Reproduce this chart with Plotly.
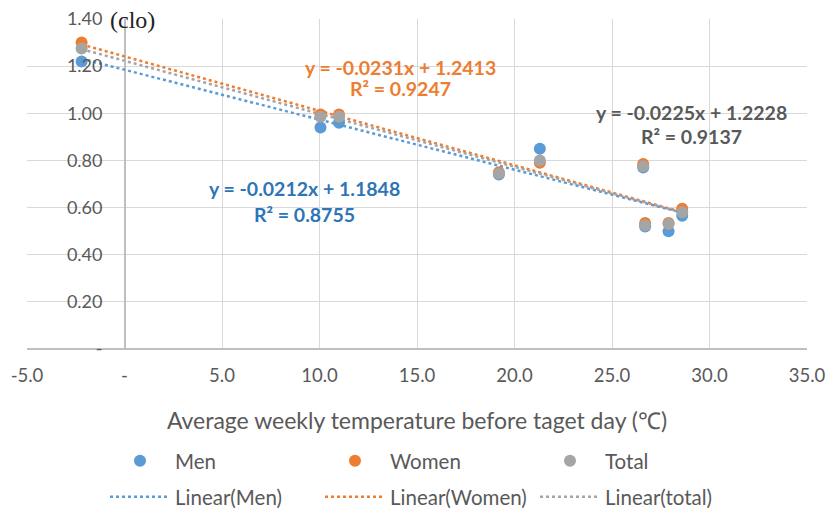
import plotly.graph_objects as go

# ---- data ----
temp = [-2.2, 10.05, 11.0, 19.2, 21.3, 26.6, 26.7, 27.9, 28.6]
men = [1.22, 0.94, 0.96, 0.74, 0.85, 0.77, 0.52, 0.50, 0.565]
women = [1.30, 0.995, 0.995, 0.75, 0.79, 0.785, 0.535, 0.535, 0.595]
total = [1.275, 0.985, 0.985, 0.745, 0.80, 0.775, 0.525, 0.53, 0.58]

series_names = ["Men", "Women", "Total"]
trend_names = ["Linear(Men)", "Linear(Women)", "Linear(total)"]
slopes = [-0.0212, -0.0231, -0.0225]
intercepts = [1.1848, 1.2413, 1.2228]
r2 = [0.8755, 0.9247, 0.9137]

x_ticks = [-5, 0, 5, 10, 15, 20, 25, 30, 35]
x_ticktext = ["-5.0", "-", "5.0", "10.0", "15.0", "20.0", "25.0", "30.0", "35.0"]
y_ticks = [0, 0.2, 0.4, 0.6, 0.8, 1.0, 1.2, 1.4]
y_ticktext = ["-", "0.20", "0.40", "0.60", "0.80", "1.00", "1.20", "1.40"]

colors = ["#5B9BD5", "#ED7D31", "#A5A5A5"]
text_colors = ["#2E75B6", "#ED7D31", "#595959"]
FONT = "Lato"
GRAY = "#595959"

fig = go.Figure()

ys = [men, women, total]
xmin, xmax = min(temp), max(temp)
# trend lines (drawn first, under markers)
for i in range(3):
    tx = [xmin, xmax]
    ty = [slopes[i] * v + intercepts[i] for v in tx]
    fig.add_trace(go.Scatter(
        x=tx, y=ty, mode="lines", name=trend_names[i],
        line=dict(color=colors[i], width=2.5, dash="dot"),
        legend="legend2"))

for i in [0, 1, 2]:
    fig.add_trace(go.Scatter(
        x=temp, y=ys[i], mode="markers", name=series_names[i],
        marker=dict(color=colors[i], size=12),
        legend="legend"))

# equation annotations (label centre x, line-1 y, line-2 y)
eq_xy = [(9.23, 0.683, 0.569), (14.15, 1.196, 1.107), (29.08, 1.005, 0.90)]
for i in range(3):
    fig.add_annotation(
        x=eq_xy[i][0], y=eq_xy[i][1], xref="x", yref="y", showarrow=False,
        text=f"<b>y = {slopes[i]:.4f}x + {intercepts[i]:.4f}</b>",
        font=dict(family=FONT, size=19.5, color=text_colors[i]))
    fig.add_annotation(
        x=eq_xy[i][0], y=eq_xy[i][2], xref="x", yref="y", showarrow=False,
        text=f"<b>R² = {r2[i]:.4f}</b>",
        font=dict(family=FONT, size=19.5, color=text_colors[i]))

fig.add_annotation(
    x=0.135, y=1.395, xref="paper", yref="y", showarrow=False, xanchor="center",
    text="(clo)", font=dict(family="Liberation Serif", size=24, color="#222222"))

fig.update_layout(
    width=836, height=514,
    margin=dict(l=27, r=29, t=19, b=165, autoexpand=False),
    paper_bgcolor="white", plot_bgcolor="white",
    font=dict(family=FONT, size=18, color=GRAY),
    xaxis=dict(
        range=[-5, 35], tickvals=x_ticks, ticktext=x_ticktext,
        showgrid=True, gridcolor="#D9D9D9", gridwidth=1,
        zeroline=True, zerolinecolor="#BFBFBF", zerolinewidth=1.5,
        showline=False, ticks="", ticklabelstandoff=13, automargin=False,
        tickfont=dict(family=FONT, size=18.5, color=GRAY),
        title=dict(text="Average weekly temperature before taget day (℃)",
                   font=dict(family=FONT, size=23, color=GRAY), standoff=28),
    ),
    yaxis=dict(
        range=[0, 1.4], tickvals=y_ticks, ticktext=y_ticktext,
        anchor="free", position=0.125, automargin=False,
        showgrid=True, gridcolor="#D9D9D9", gridwidth=1,
        zeroline=True, zerolinecolor="#BFBFBF", zerolinewidth=1.5,
        showline=False, ticks="", ticklabelstandoff=22,
        tickfont=dict(family=FONT, size=18, color=GRAY),
    ),
    legend=dict(
        orientation="h", x=0.1, y=-0.339, xanchor="left", yanchor="middle",
        entrywidth=140, entrywidthmode="pixels", itemsizing="constant",
        itemwidth=60,
        font=dict(family=FONT, size=20.5, color=GRAY), traceorder="normal",
    ),
    legend2=dict(
        orientation="h", x=0.1, y=-0.448, xanchor="left", yanchor="middle",
        entrywidth=140, entrywidthmode="pixels", itemwidth=60,
        font=dict(family=FONT, size=20.5, color=GRAY), traceorder="normal",
    ),
    showlegend=True,
)

fig.write_html("out.html")
